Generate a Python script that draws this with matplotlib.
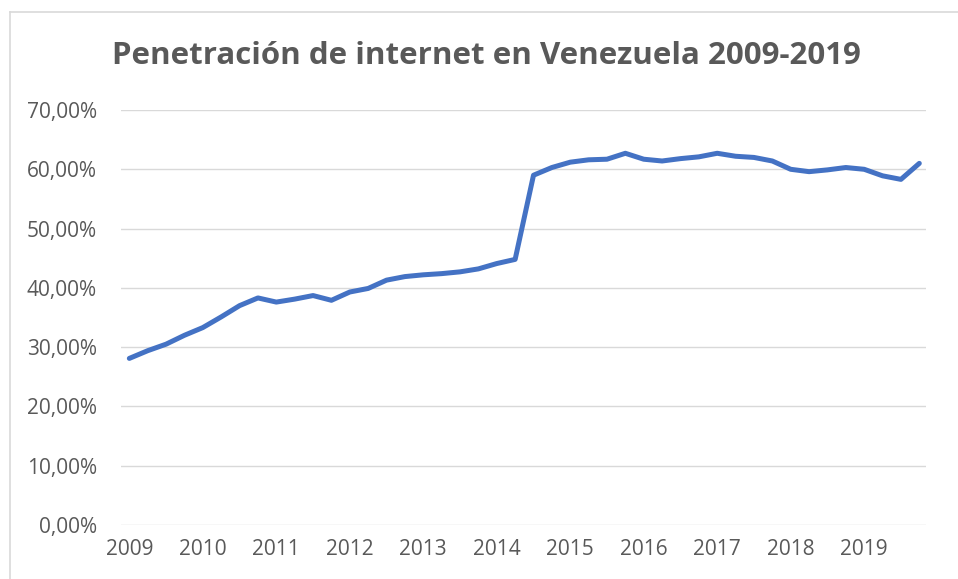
import matplotlib.pyplot as plt
from matplotlib.lines import Line2D
from matplotlib.ticker import FuncFormatter

#quarterly data 2009-2019 (percent)
years = ["2009", "2010", "2011", "2012", "2013", "2014", "2015", "2016", "2017", "2018", "2019"]
penetration = [
    28.1, 29.4, 30.5, 32.0,   # 2009
    33.3, 35.1, 37.0, 38.3,   # 2010
    37.6, 38.1, 38.7, 37.9,   # 2011
    39.3, 39.9, 41.3, 41.9,   # 2012
    42.2, 42.4, 42.7, 43.2,   # 2013
    44.1, 44.8, 59.0, 60.3,   # 2014
    61.2, 61.6, 61.7, 62.7,   # 2015
    61.7, 61.4, 61.8, 62.1,   # 2016
    62.7, 62.2, 62.0, 61.4,   # 2017
    60.0, 59.6, 59.9, 60.3,   # 2018
    60.0, 58.9, 58.3, 61.0,   # 2019
]
values = [v / 100 for v in penetration]
x = list(range(len(values)))

text_color = "#595959"
plt.rcParams["font.family"] = ["Open Sans", "DejaVu Sans"]

fig = plt.figure(figsize=(9.58, 5.79), dpi=100)
ax = fig.add_axes([0.126, 0.0933, 0.8407, 0.7167])

ax.plot(x, values, color="#4472C4", linewidth=3.6, solid_capstyle="round", solid_joinstyle="round", zorder=3)

ax.set_ylim(0, 0.7)
ax.set_yticks([i / 10 for i in range(8)])
ax.yaxis.set_major_formatter(FuncFormatter(lambda v, p: f"{v*100:.2f}%".replace(".", ",")))
ax.set_xlim(-0.47, 43.37)
ax.set_xticks(range(0, len(values), 4))
ax.set_xticklabels(years)

ax.grid(axis="y", color="#D9D9D9", linewidth=1.0)
ax.set_axisbelow(True)
for s in ax.spines.values():
    s.set_visible(False)
ax.tick_params(length=0, labelsize=15, labelcolor=text_color)
ax.tick_params(axis="y", pad=17)
ax.tick_params(axis="x", pad=10)

fig.text(0.508, 0.903, "Penetración de internet en Venezuela 2009-2019",
         ha="center", va="center", fontsize=22.5, fontweight="bold", color=text_color)

#chart frame (cropped at right and bottom)
fig.add_artist(Line2D([9.5/958, 9.5/958], [0, 1-11.5/579], color="#D9D9D9", linewidth=1.2))
fig.add_artist(Line2D([9.5/958, 1], [1-11.5/579, 1-11.5/579], color="#D9D9D9", linewidth=1.2))

fig.savefig("out.png", dpi=100)
